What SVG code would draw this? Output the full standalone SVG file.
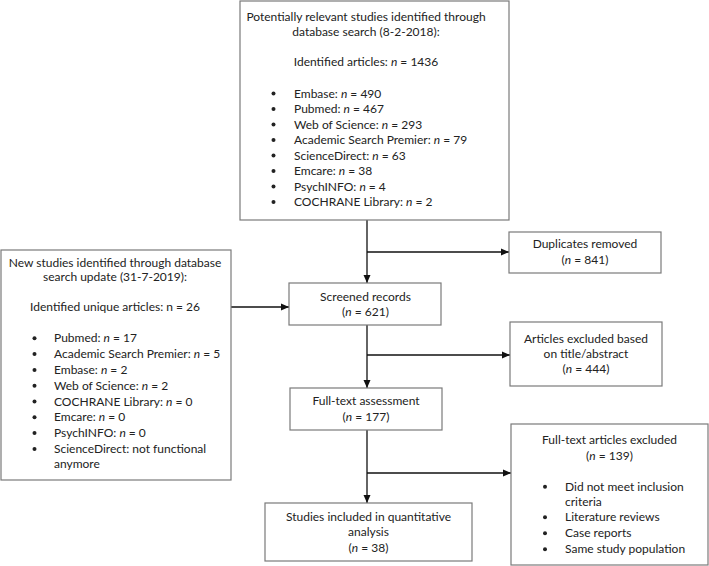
<svg xmlns="http://www.w3.org/2000/svg" width="709" height="566" viewBox="0 0 709 566">
<style>
.box{fill:#fff;stroke:#7a7a7a;stroke-width:1.2}
text{font-family:Lato,"Liberation Sans",sans-serif;font-size:12px;fill:#222}
.c{text-anchor:middle}
.ln{stroke:#111;stroke-width:1.3;fill:none}
</style>
<defs>
<marker id="ah" markerWidth="8" markerHeight="8" refX="8" refY="4" orient="auto" markerUnits="userSpaceOnUse">
<path d="M0,0.5 L8,4 L0,7.5 Z" fill="#111"/>
</marker>
<circle id="b" r="2" fill="#222"/>
</defs>
<rect width="709" height="566" fill="#fff"/>
<g id="connectors">
<path class="ln" d="M367,220 V283" marker-end="url(#ah)"/>
<path class="ln" d="M367,252 H509" marker-end="url(#ah)"/>
<path class="ln" d="M205,307 H289" marker-end="url(#ah)"/>
<path class="ln" d="M367,325 V388" marker-end="url(#ah)"/>
<path class="ln" d="M367,355 H510" marker-end="url(#ah)"/>
<path class="ln" d="M367,430 V503" marker-end="url(#ah)"/>
<path class="ln" d="M367,473 H511" marker-end="url(#ah)"/>
</g>
<g id="search">
<rect class="box" x="240" y="1" width="269" height="219"/>
<text class="c" x="366" y="21">Potentially relevant studies identified through</text>
<text class="c" x="366" y="35.5">database search (8-2-2018):</text>
<text class="c" x="366" y="66">Identified articles: <tspan font-style="italic">n</tspan> = 1436</text>
<use href="#b" x="273.5" y="93.5"/><text x="294" y="97.5">Embase: <tspan font-style="italic">n</tspan> = 490</text>
<use href="#b" x="273.5" y="109"/><text x="294" y="113">Pubmed: <tspan font-style="italic">n</tspan> = 467</text>
<use href="#b" x="273.5" y="124.5"/><text x="294" y="128.5">Web of Science: <tspan font-style="italic">n</tspan> = 293</text>
<use href="#b" x="273.5" y="140"/><text x="294" y="144">Academic Search Premier: <tspan font-style="italic">n</tspan> = 79</text>
<use href="#b" x="273.5" y="155.5"/><text x="294" y="159.5">ScienceDirect: <tspan font-style="italic">n</tspan> = 63</text>
<use href="#b" x="273.5" y="171"/><text x="294" y="175">Emcare: <tspan font-style="italic">n</tspan> = 38</text>
<use href="#b" x="273.5" y="186.5"/><text x="294" y="190.5">PsychINFO: <tspan font-style="italic">n</tspan> = 4</text>
<use href="#b" x="273.5" y="202"/><text x="294" y="206">COCHRANE Library: <tspan font-style="italic">n</tspan> = 2</text>
</g>
<g id="update">
<rect class="box" x="1" y="250" width="230" height="230"/>
<text class="c" x="115" y="266.5">New studies identified through database</text>
<text class="c" x="115" y="281">search update (31-7-2019):</text>
<text class="c" x="115" y="311">Identified unique articles: n = 26</text>
<use href="#b" x="34.5" y="338.3"/><text x="54" y="342.3">Pubmed: <tspan font-style="italic">n</tspan> = 17</text>
<use href="#b" x="34.5" y="354.1"/><text x="54" y="358.1">Academic Search Premier: <tspan font-style="italic">n</tspan> = 5</text>
<use href="#b" x="34.5" y="369.9"/><text x="54" y="373.9">Embase: <tspan font-style="italic">n</tspan> = 2</text>
<use href="#b" x="34.5" y="385.7"/><text x="54" y="389.7">Web of Science: <tspan font-style="italic">n</tspan> = 2</text>
<use href="#b" x="34.5" y="401.5"/><text x="54" y="405.5">COCHRANE Library: <tspan font-style="italic">n</tspan> = 0</text>
<use href="#b" x="34.5" y="417.3"/><text x="54" y="421.3">Emcare: <tspan font-style="italic">n</tspan> = 0</text>
<use href="#b" x="34.5" y="433.1"/><text x="54" y="437.1">PsychINFO: <tspan font-style="italic">n</tspan> = 0</text>
<use href="#b" x="34.5" y="448.9"/><text x="54" y="452.9">ScienceDirect: not functional</text>
<text x="54" y="467.5">anymore</text>
</g>
<g id="duplicates">
<rect class="box" x="509" y="232" width="152" height="41"/>
<text class="c" x="585" y="248.3">Duplicates removed</text>
<text class="c" x="585" y="264">(<tspan font-style="italic">n</tspan> = 841)</text>
</g>
<g id="screened">
<rect class="box" x="289" y="283" width="152" height="42"/>
<text class="c" x="365.5" y="300.7">Screened records</text>
<text class="c" x="365.5" y="316">(<tspan font-style="italic">n</tspan> = 621)</text>
</g>
<g id="excluded-title">
<rect class="box" x="510" y="322" width="152" height="64"/>
<text class="c" x="586" y="342.7">Articles excluded based</text>
<text class="c" x="586" y="357.7">on title/abstract</text>
<text class="c" x="586" y="373.3">(<tspan font-style="italic">n</tspan> = 444)</text>
</g>
<g id="fulltext">
<rect class="box" x="290" y="388" width="152" height="42"/>
<text class="c" x="366" y="405">Full-text assessment</text>
<text class="c" x="366" y="421">(<tspan font-style="italic">n</tspan> = 177)</text>
</g>
<g id="excluded-fulltext">
<rect class="box" x="511" y="424" width="197" height="141"/>
<text class="c" x="609.5" y="444">Full-text articles excluded</text>
<text class="c" x="609.5" y="460">(<tspan font-style="italic">n</tspan> = 139)</text>
<use href="#b" x="545" y="486.7"/><text x="565" y="490.7">Did not meet inclusion</text>
<text x="565" y="505.7">criteria</text>
<use href="#b" x="545" y="517.3"/><text x="565" y="521.3">Literature reviews</text>
<use href="#b" x="545" y="533.3"/><text x="565" y="537.3">Case reports</text>
<use href="#b" x="545" y="549.3"/><text x="565" y="553.3">Same study population</text>
</g>
<g id="included">
<rect class="box" x="265" y="503" width="207" height="58"/>
<text class="c" x="368.5" y="520.7">Studies included in quantitative</text>
<text class="c" x="368.5" y="536">analysis</text>
<text class="c" x="368.5" y="551.7">(<tspan font-style="italic">n</tspan> = 38)</text>
</g>
</svg>
